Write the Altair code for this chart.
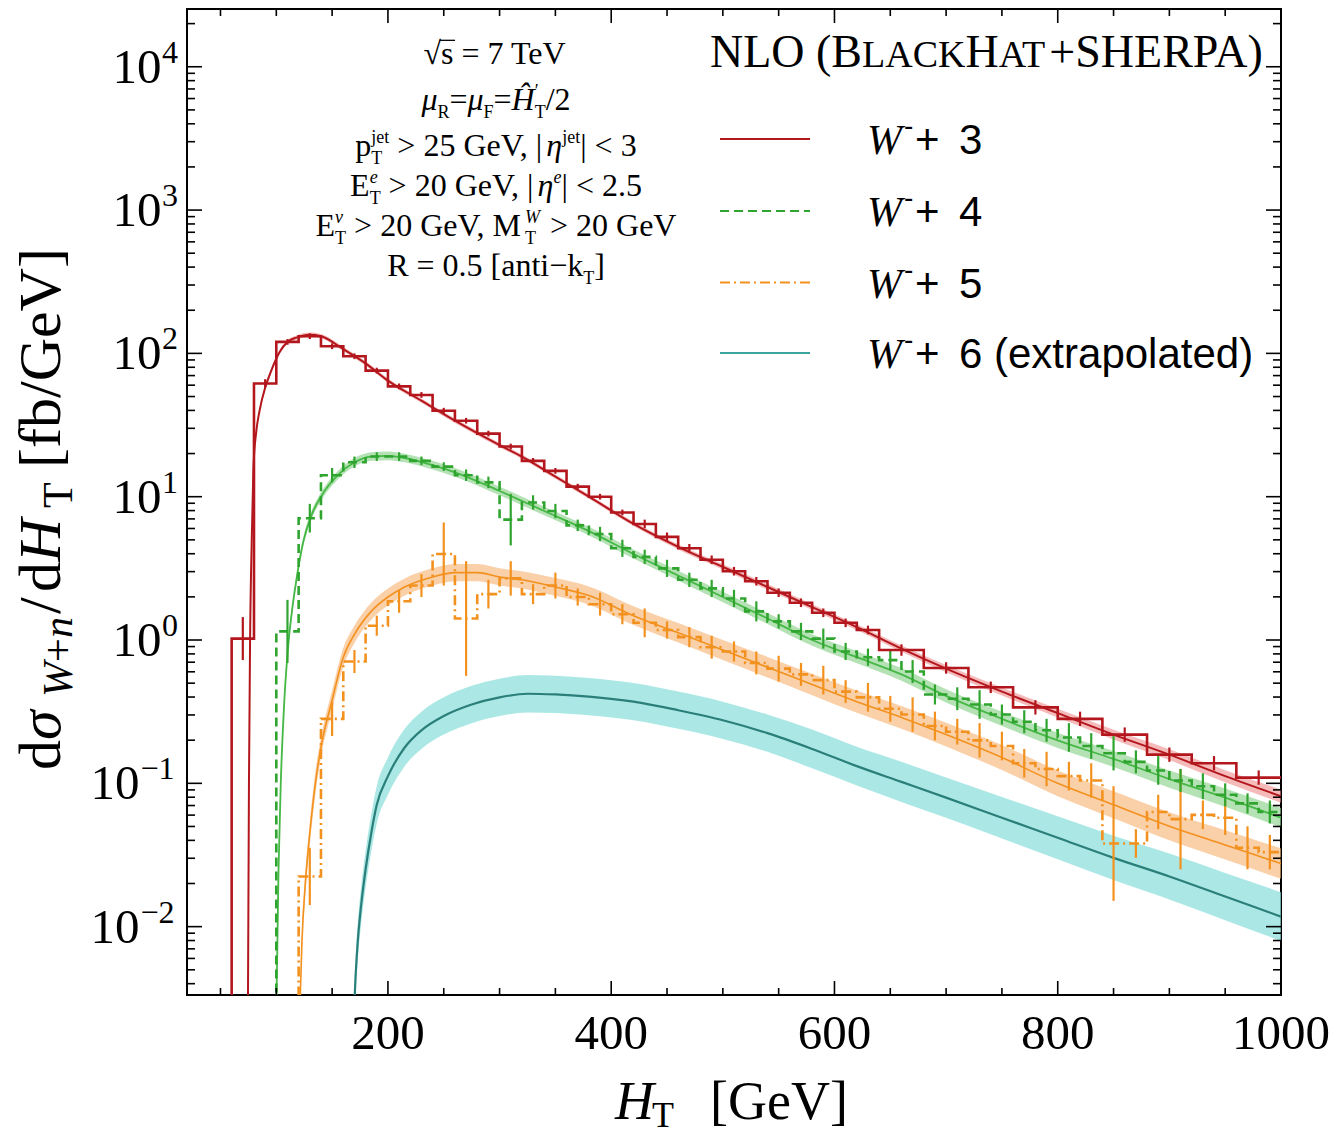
import altair as alt
import pandas as pd

# ---------------- data ----------------
# Smooth NLO curves: HT [GeV], log10(dsigma/dHT [fb/GeV]), band half-width [decades]
W3_X = [74.5, 75.5, 76.5, 78, 79.5, 82, 85, 90, 95, 103, 110, 118, 130, 140, 160, 180, 200, 230, 260, 300,
        320, 350, 380, 420, 460, 500, 540, 580, 620, 660, 700, 750, 800, 850, 900, 950, 1000]
W3_LOG = [-2.7, -1.0, 0.0, 0.7, 1.2, 1.45, 1.6, 1.76, 1.87, 2.01, 2.08, 2.11, 2.13, 2.12, 2.03, 1.93, 1.81, 1.67, 1.53, 1.36,
          1.28, 1.14, 1.0, 0.81, 0.65, 0.51, 0.37, 0.23, 0.09, -0.06, -0.2, -0.36, -0.51, -0.66, -0.80, -0.95, -1.09]
W3_HW = [0.03, 0.03, 0.03, 0.03, 0.03, 0.02, 0.02, 0.02, 0.02, 0.015, 0.015, 0.015, 0.015, 0.015, 0.015, 0.015, 0.015, 0.015, 0.015, 0.015,
         0.015, 0.015, 0.015, 0.015, 0.018, 0.018, 0.02, 0.02, 0.02, 0.022, 0.025, 0.028, 0.03, 0.034, 0.038, 0.042, 0.046]

W4_X = [100, 102, 104, 107, 110, 114, 118, 124, 132, 140, 155, 170, 185, 200, 215, 240, 260, 300, 340, 380,
        420, 460, 500, 540, 580, 620, 660, 700, 750, 800, 850, 900, 950, 1000]
W4_LOG = [-2.6, -1.6, -1.0, -0.45, -0.1, 0.2, 0.42, 0.68, 0.88, 1.0, 1.15, 1.24, 1.28, 1.285, 1.27, 1.22, 1.17, 1.04, 0.9, 0.76,
          0.6, 0.45, 0.3, 0.15, 0.0, -0.12, -0.24, -0.39, -0.55, -0.7, -0.83, -0.97, -1.1, -1.24]
W4_HW = [0.05, 0.05, 0.05, 0.04, 0.04, 0.035, 0.03, 0.03, 0.03, 0.03, 0.03, 0.03, 0.03, 0.03, 0.03, 0.03, 0.03, 0.03, 0.03, 0.03,
         0.032, 0.034, 0.036, 0.038, 0.04, 0.042, 0.044, 0.046, 0.05, 0.053, 0.056, 0.06, 0.064, 0.068]

W5_X = [121, 123, 126, 130, 135, 140, 150, 160, 170, 185, 200, 215, 240, 260, 280, 300, 320, 350, 380, 420,
        460, 500, 540, 580, 620, 660, 700, 750, 800, 850, 900, 950, 1000]
W5_LOG = [-2.6, -2.1, -1.7, -1.35, -1.0, -0.75, -0.42, -0.12, 0.04, 0.2, 0.3, 0.37, 0.44, 0.47, 0.47, 0.44, 0.42, 0.37, 0.31, 0.17,
          0.05, -0.07, -0.19, -0.31, -0.43, -0.54, -0.66, -0.82, -1.0, -1.15, -1.3, -1.43, -1.56]
W5_HW = [0.08, 0.08, 0.08, 0.08, 0.08, 0.07, 0.07, 0.065, 0.06, 0.06, 0.06, 0.06, 0.06, 0.06, 0.06, 0.06, 0.06, 0.062, 0.064, 0.066,
         0.068, 0.07, 0.072, 0.075, 0.078, 0.08, 0.083, 0.087, 0.09, 0.094, 0.098, 0.102, 0.106]

W6_X = [169, 171, 173, 176, 180, 185, 190, 200, 215, 230, 250, 275, 300, 325, 350, 380, 420, 460, 500, 540,
        580, 620, 660, 700, 750, 800, 850, 900, 950, 1000]
W6_LOG = [-2.7, -2.35, -2.1, -1.85, -1.6, -1.35, -1.15, -0.95, -0.75, -0.63, -0.53, -0.45, -0.4, -0.375, -0.38, -0.395, -0.43, -0.49, -0.56, -0.65,
          -0.76, -0.88, -0.99, -1.1, -1.24, -1.38, -1.52, -1.65, -1.79, -1.93]
W6_HW = [0.13, 0.13, 0.13, 0.13, 0.13, 0.13, 0.13, 0.13, 0.13, 0.13, 0.13, 0.13, 0.13, 0.13, 0.13, 0.13, 0.13, 0.13, 0.13, 0.13,
         0.135, 0.135, 0.14, 0.14, 0.145, 0.15, 0.155, 0.16, 0.165, 0.17]

# Histograms (bin edges, log10 value per bin, statistical error in decades)
W3_EDGES = list(range(60, 641, 20)) + list(range(680, 1001, 40))
W3_HIST = [0.01, 1.79, 2.08, 2.12, 2.05, 1.98, 1.88, 1.77, 1.71, 1.60,
           1.53, 1.44, 1.35, 1.25, 1.18, 1.07, 1.00, 0.89, 0.81, 0.72,
           0.64, 0.56, 0.48, 0.41, 0.33, 0.26, 0.19, 0.12, 0.07,
           -0.07, -0.195, -0.33, -0.47, -0.55, -0.66, -0.80, -0.86, -0.96]
W3_ERR = [0.15, 0.03, 0.02, 0.02, 0.02, 0.02, 0.02, 0.02, 0.02, 0.02,
          0.02, 0.02, 0.02, 0.02, 0.02, 0.02, 0.02, 0.02, 0.03, 0.03,
          0.03, 0.03, 0.03, 0.03, 0.03, 0.03, 0.03, 0.03, 0.03,
          0.04, 0.04, 0.04, 0.05, 0.05, 0.05, 0.05, 0.05, 0.05]

W4_EDGES = list(range(100, 1001, 20))
W4_HIST = [0.06, 0.85, 1.15, 1.24, 1.28, 1.28, 1.25, 1.21, 1.15, 1.10,
           0.84, 0.96, 0.90, 0.80, 0.74, 0.64, 0.58, 0.50, 0.42, 0.36,
           0.29, 0.20, 0.13, 0.06, 0.01, -0.08, -0.12, -0.14, -0.22, -0.38,
           -0.41, -0.45, -0.52, -0.57, -0.63, -0.68, -0.74, -0.79, -0.85, -0.91,
           -0.98, -1.02, -1.08, -1.14, -1.20]
W4_ERR = [0.22, 0.10, 0.05, 0.04, 0.03, 0.03, 0.03, 0.03, 0.04, 0.04,
          0.18, 0.05, 0.05, 0.04, 0.05, 0.06, 0.05, 0.06, 0.05, 0.06,
          0.06, 0.07, 0.05, 0.06, 0.07, 0.06, 0.06, 0.07, 0.08, 0.07,
          0.08, 0.10, 0.07, 0.08, 0.08, 0.10, 0.09, 0.12, 0.08, 0.10,
          0.08, 0.09, 0.08, 0.07, 0.08]

W5_EDGES = list(range(120, 1001, 20))
W5_HIST = [-1.65, -0.55, -0.15, 0.10, 0.27, 0.38, 0.60, 0.15, 0.32, 0.43,
           0.32, 0.38, 0.30, 0.25, 0.18, 0.12, 0.07, 0.02, -0.05, -0.08,
           -0.16, -0.20, -0.24, -0.28, -0.36, -0.40, -0.48, -0.52, -0.60, -0.64,
           -0.70, -0.74, -0.86, -0.90, -0.95, -0.98, -1.42, -1.42, -1.20, -1.25,
           -1.22, -1.24, -1.45, -1.48]
W5_ERR = [0.2, 0.12, 0.08, 0.07, 0.08, 0.08, 0.22, 0.4, 0.1, 0.12,
          0.07, 0.09, 0.06, 0.08, 0.07, 0.1, 0.06, 0.07, 0.08, 0.07,
          0.08, 0.09, 0.08, 0.1, 0.08, 0.1, 0.09, 0.12, 0.1, 0.09,
          0.12, 0.1, 0.1, 0.12, 0.1, 0.12, 0.4, 0.1, 0.12, 0.35,
          0.1, 0.12, 0.15, 0.12]

LEGEND_LABELS = ["3", "4", "5", "6 (extrapolated)"]
X_TICKS = [200, 400, 600, 800, 1000]
X_MINOR = [50, 100, 150, 250, 300, 350, 450, 500, 550, 650, 700, 750, 850, 900, 950]
Y_EXPONENTS = [-2, -1, 0, 1, 2, 3, 4]

ANNOT = [
    [("√", "n", False), ("s", "n", False), (" = 7 TeV", "n", False)],
    [("μ", "n", True), ("R", "b", False), ("=", "n", False), ("μ", "n", True), ("F", "b", False), ("=", "n", False),
     ("Ĥ", "n", True), ("′", "P", False), ("T", "b", False), ("/2", "n", False)],
    [("p", "n", False), ("jet", "P", False), ("T", "b", False), (" > 25 GeV, |", "n", False), ("η", "n", True),
     ("jet", "p", False), ("| < 3", "n", False)],
    [("E", "n", False), ("e", "P", True), ("T", "b", False), (" > 20 GeV, |", "n", False), ("η", "n", True),
     ("e", "p", True), ("| < 2.5", "n", False)],
    [("E", "n", False), ("ν", "P", True), ("T", "b", False), (" > 20 GeV, M", "n", False), ("W", "P", True),
     ("T", "b", False), (" > 20 GeV", "n", False)],
    [("R = 0.5 [anti−k", "n", False), ("T", "b", False), ("]", "n", False)],
]

# ---------------- layout helpers ----------------
W, H = 1094, 986
PL, PT = 187, 9
SERIF, SANS = "Liberation Serif", "Liberation Sans"
RED, GREEN, ORANGE, TEAL = "#b3171d", "#2fa52f", "#f3911f", "#2a7f7a"

XS = alt.Scale(domain=[20, 1000], nice=False, zero=False)
YS = alt.Scale(type="log", domain=[10 ** -2.477, 10 ** 4.403], nice=False)

TW = {' ': .25, '0': .5, '1': .5, '2': .5, '3': .5, '4': .5, '5': .5, '6': .5, '7': .5, '8': .5, '9': .5,
      '.': .25, ',': .25, '=': .564, '>': .564, '<': .564, '+': .564, '/': .278, '|': .2, '[': .333, ']': .333,
      '(': .333, ')': .333, '−': .564, '-': .333,
      'A': .722, 'B': .667, 'C': .667, 'E': .611, 'F': .556, 'G': .722, 'H': .722, 'K': .722, 'L': .611,
      'M': .889, 'N': .722, 'O': .722, 'P': .556, 'R': .667, 'S': .556, 'T': .611, 'V': .722, 'W': .944,
      'a': .444, 'b': .5, 'd': .5, 'e': .444, 'f': .333, 'i': .278, 'j': .278, 'k': .5, 'n': .5, 'p': .5,
      's': .389, 't': .278, 'μ': .5, 'η': .5, 'ν': .5, 'σ': .55, '√': .549, 'Ĥ': .722, '′': .25}


def tw(s, fs):
    return sum(TW.get(c, 0.5) for c in s) * fs


TEXT = {}


def put(x, y, t, fs, font=SERIF, italic=False, angle=0, align="left"):
    TEXT.setdefault((font, italic, angle, align), []).append((x, y, t, fs))


def rich(segs, cx, base, fs=32, ss=18):
    items, x, hold = [], 0.0, 0.0
    for t, role, it in segs:
        size = fs if role == "n" else ss
        dy = 0 if role == "n" else (7.5 if role == "b" else -13.5)
        lead = len(t) - len(t.lstrip(" "))
        trail = len(t) - len(t.rstrip(" "))
        x += lead * 0.25 * size
        s = t.strip(" ")
        w = tw(s, size)
        items.append([x, dy, s, size, it, w])
        if role == "P":
            hold = w
            continue
        x += max(w, hold) + trail * 0.25 * size
        hold = 0.0
    x0 = cx - x / 2
    for it in items:
        put(x0 + it[0], base + it[1], it[2], it[3], italic=it[4])
    return [(x0 + it[0], it[5]) for it in items]


layers = []


def curve_df(xs, lg, hw):
    return pd.DataFrame({"x": xs, "y": [10 ** v for v in lg],
                         "lo": [10 ** (v - h) for v, h in zip(lg, hw)],
                         "hi": [10 ** (v + h) for v, h in zip(lg, hw)]})


X_ENC = alt.X("x:Q", scale=XS, axis=None)

# bands
for xs, lg, hw, col, op in [(W6_X, W6_LOG, W6_HW, "#8fe0dc", 0.75), (W5_X, W5_LOG, W5_HW, "#f8b77a", 0.65),
                            (W4_X, W4_LOG, W4_HW, "#8ed38e", 0.65), (W3_X, W3_LOG, W3_HW, "#ee8c8c", 0.6)]:
    layers.append(alt.Chart(curve_df(xs, lg, hw)).mark_area(color=col, opacity=op, clip=True, interpolate="monotone")
                  .encode(x=X_ENC, y=alt.Y("lo:Q", scale=YS, axis=None), y2="hi:Q"))
# smooth central curves
for xs, lg, hw, col, sw in [(W6_X, W6_LOG, W6_HW, TEAL, 2.2), (W5_X, W5_LOG, W5_HW, ORANGE, 1.6),
                            (W4_X, W4_LOG, W4_HW, "#45b845", 1.8), (W3_X, W3_LOG, W3_HW, RED, 2.0)]:
    layers.append(alt.Chart(curve_df(xs, lg, hw)).mark_line(color=col, strokeWidth=sw, clip=True, interpolate="monotone")
                  .encode(x=X_ENC, y=alt.Y("y:Q", scale=YS, axis=None)))


# histograms
def hist_df(edges, lg):
    xs = [edges[0]] + edges[:-1] + [edges[-1]]
    ys = [1e-5] + [10 ** v for v in lg] + [10 ** lg[-1]]
    return pd.DataFrame({"x": xs, "y": ys, "i": list(range(len(xs)))})


def err_df(edges, lg, er):
    return pd.DataFrame({"x": [(a + b) / 2 for a, b in zip(edges[:-1], edges[1:])],
                         "lo": [10 ** (v - e) for v, e in zip(lg, er)],
                         "hi": [10 ** (v + e) for v, e in zip(lg, er)]})


for edges, lg, er, col, dash in [(W5_EDGES, W5_HIST, W5_ERR, ORANGE, [10, 4, 2, 4]),
                                 (W4_EDGES, W4_HIST, W4_ERR, GREEN, [9, 5]),
                                 (W3_EDGES, W3_HIST, W3_ERR, RED, [1, 0])]:
    layers.append(alt.Chart(hist_df(edges, lg)).mark_line(color=col, strokeWidth=2.6, strokeDash=dash, clip=True,
                                                          interpolate="step-after")
                  .encode(x=X_ENC, y=alt.Y("y:Q", scale=YS, axis=None), order="i:Q"))
    layers.append(alt.Chart(err_df(edges, lg, er)).mark_rule(color=col, strokeWidth=2.2, clip=True)
                  .encode(x=X_ENC, y=alt.Y("lo:Q", scale=YS, axis=None), y2="hi:Q"))

# ---------------- ticks (inward, all four sides) ----------------
y_major = [10.0 ** k for k in Y_EXPONENTS]
y_minor = [m * 10.0 ** k for k in range(-3, 5) for m in range(2, 10) if 10 ** -2.477 < m * 10.0 ** k < 10 ** 4.403]
for vals, L in [(X_TICKS, 14), (X_MINOR, 7)]:
    d = pd.DataFrame({"x": vals})
    layers.append(alt.Chart(d).mark_rule(color="black", strokeWidth=1.6)
                  .encode(x=X_ENC, y=alt.value(H), y2=alt.value(H - L)))
    layers.append(alt.Chart(d).mark_rule(color="black", strokeWidth=1.6)
                  .encode(x=X_ENC, y=alt.value(0), y2=alt.value(L)))
for vals, L in [(y_major, 15), (y_minor, 8)]:
    d = pd.DataFrame({"v": vals})
    ye = alt.Y("v:Q", scale=YS, axis=None)
    layers.append(alt.Chart(d).mark_rule(color="black", strokeWidth=1.6)
                  .encode(y=ye, x=alt.value(0), x2=alt.value(L)))
    layers.append(alt.Chart(d).mark_rule(color="black", strokeWidth=1.6)
                  .encode(y=ye, x=alt.value(W), x2=alt.value(W - L)))

# tick labels
layers.append(alt.Chart(pd.DataFrame({"x": X_TICKS, "t": [str(v) for v in X_TICKS]}))
              .mark_text(font=SERIF, fontSize=49, align="center", baseline="alphabetic", color="black")
              .encode(x=X_ENC, y=alt.value(1040), text="t:N"))
ydf = pd.DataFrame({"v": y_major, "e": [str(k).replace("-", "−") for k in Y_EXPONENTS],
                    "neg": [k < 0 for k in Y_EXPONENTS]})
for neg, xt, xe in [(False, -25.5, -25.0), (True, -47.5, -46.5)]:
    sub = ydf[ydf["neg"] == neg]
    ye = alt.Y("v:Q", scale=YS, axis=None)
    layers.append(alt.Chart(sub).mark_text(font=SERIF, fontSize=49, align="right", baseline="alphabetic", dy=16,
                                           color="black", text="10")
                  .encode(y=ye, x=alt.value(xt)))
    layers.append(alt.Chart(sub).mark_text(font=SERIF, fontSize=32, align="left", baseline="alphabetic", dy=-4,
                                           color="black")
                  .encode(y=ye, x=alt.value(xe), text="e:N"))

# ---------------- axis titles ----------------
put(615 - PL, 1119 - PT, "H", 54, italic=True)
put(652 - PL, 1127 - PT, "T", 36)
put(710 - PL, 1119 - PT, "[GeV]", 54)

yb, ys_ = 60 - PL, 72 - PL
put(yb, 770 - PT, "d", 60, angle=270)
put(yb, 740 - PT, "σ", 60, italic=True, angle=270)
put(ys_, 697 - PT, "W", 42, italic=True, angle=270)
put(ys_, 662 - PT, "+", 42, angle=270)
put(ys_, 638 - PT, "n", 42, italic=True, angle=270)
put(yb, 614 - PT, "/", 60, angle=270)
put(yb, 592 - PT, "d", 60, angle=270)
put(yb, 562 - PT, "H", 60, italic=True, angle=270)
put(ys_, 508 - PT, "T", 42, angle=270)
put(yb, 468 - PT, "[fb/GeV]", 60, angle=270)

# ---------------- header "NLO (BlackHat+Sherpa)" in small caps ----------------
x = 710 - PL
for s, fs in [("NLO (", 46), ("B", 46), ("LACK", 38), ("H", 46), ("AT", 38), ("+SHERPA)", 46)]:
    if s.startswith("NLO"):
        put(x, 67 - PT, "NLO", fs)
        x += tw("NLO (", fs) - tw("(", fs)
        put(x, 67 - PT, "(", fs)
        x += tw("(", fs)
        continue
    put(x, 67 - PT, s, fs)
    x += tw(s, fs)

# ---------------- legend ----------------
rows = [139, 211, 282.5, 353]
styles = [(RED, [1, 0]), (GREEN, [9, 5]), (ORANGE, [10, 4, 2, 4]), ("#3aa59d", [1, 0])]
for ry, (col, dash), lab in zip(rows, styles, LEGEND_LABELS):
    layers.append(alt.Chart(alt.Data(values=[{}])).mark_rule(color=col, strokeWidth=2.2, strokeDash=dash)
                  .encode(x=alt.value(720 - PL), x2=alt.value(810 - PL), y=alt.value(ry - PT)))
    put(867 - PL, ry + 15 - PT, "W", 42, italic=True)
    put(904 - PL, ry - 4 - PT, "-", 28, font=SANS)
    put(915 - PL, ry + 15 - PT, "+", 42, font=SANS)
    put(959 - PL, ry + 15 - PT, lab, 42, font=SANS)

# ---------------- cut annotations ----------------
bases = [64, 110, 156, 196, 236, 276]
for segs, b in zip(ANNOT, bases):
    pos = rich(segs, 496 - PL, b - PT)
    if segs[0][0] == "√":
        (xr, wr), (xs_, ws_) = pos[0], pos[1]
        layers.append(alt.Chart(alt.Data(values=[{}])).mark_rule(color="black", strokeWidth=1.3)
                      .encode(x=alt.value(xr + wr - 1.5), x2=alt.value(xs_ + ws_ + 1.5),
                              y=alt.value(b - PT - 0.74 * 32)))

for (font, italic, angle, align), rws in TEXT.items():
    df = pd.DataFrame(rws, columns=["px", "py", "t", "fs"])
    layers.append(alt.Chart(df).mark_text(font=font, fontStyle="italic" if italic else "normal", angle=angle,
                                          align=align, baseline="alphabetic", color="black")
                  .encode(x=alt.X("px:Q", scale=None, axis=None), y=alt.Y("py:Q", scale=None, axis=None),
                          text="t:N", size=alt.Size("fs:Q", scale=None, legend=None)))

chart = alt.layer(*layers).properties(
    width=W, height=H,
    autosize=alt.AutoSizeParams(type="none"),
    padding={"left": PL, "top": PT, "right": 1338 - PL - W, "bottom": 1136 - PT - H},
    background="white",
).configure_view(stroke="black", strokeWidth=2)

chart.save("out.html", embed_options={"renderer": "svg", "actions": False})
